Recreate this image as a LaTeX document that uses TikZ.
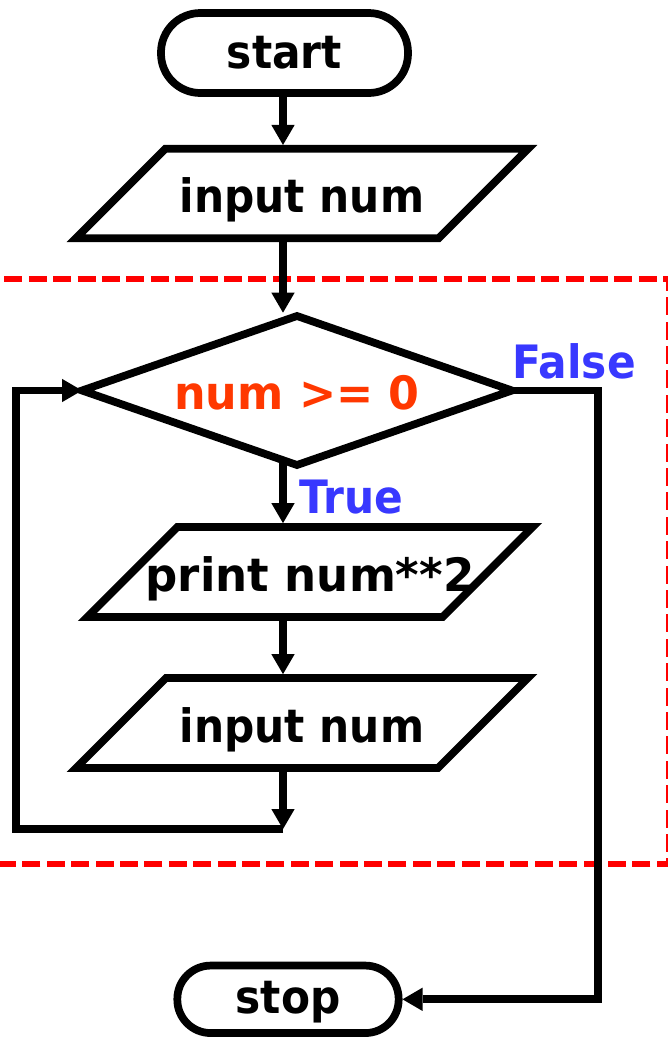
\documentclass[tikz,border=0pt]{standalone}
\usepackage{fontspec}
\newfontfamily\flowfont{DejaVu Sans}[FakeStretch=0.92]
\newfontfamily\flowfontcond{DejaVu Sans}[FakeStretch=0.965]
\newfontfamily\flowfontwide{DejaVu Sans}[FakeStretch=0.98]
\usetikzlibrary{shapes.geometric,arrows.meta,calc}
\definecolor{condcol}{RGB}{255,56,0}
\definecolor{lblcol}{RGB}{56,56,255}
\definecolor{boxred}{RGB}{255,0,0}
\begin{document}
\begin{tikzpicture}[x=0.75pt,y=-0.75pt,
  every node/.style={font=\flowfont\bfseries\fontsize{34.5pt}{40pt}\selectfont, inner sep=0pt},
  flowline/.style={line width=5.8pt, line join=miter},
  arr/.style={flowline, -{Triangle[width=17.5pt,length=15pt,line width=0pt]}},
  term/.style={draw, line width=5.8pt, rectangle, inner sep=0pt, text depth=0pt},
  io/.style={draw, line width=5.8pt, trapezium, trapezium left angle=45, trapezium right angle=135, trapezium stretches body, inner xsep=0pt, text height=29.2pt, text depth=0pt},
  decision/.style={draw, line width=5.8pt, diamond, aspect=2.9, outer sep=0pt, minimum width=322.5pt, minimum height=111.75pt, text height=28.5pt, text depth=0pt, text=condcol},
  branch/.style={text=lblcol, anchor=base},
  loopbox/.style={draw=boxred, line width=4.5pt, dash pattern=on 13.5pt off 4.8pt}
]
\useasboundingbox (0,0) rectangle (668,1040);
\clip (0,0) rectangle (668,1040);
\draw[loopbox] (-20,278.5) -- (669,278.5) -- (669,864) -- (-20,864);
\node[term, rounded corners=29.5pt, minimum width=185.25pt, minimum height=60pt, text height=22.5pt] (start) at (284.5,53) {start};
\node[io, inner ysep=18.9pt, minimum width=339pt, minimum height=67pt] (in1) at (302,193.5) {input num};
\node[decision, font=\flowfontcond\bfseries\fontsize{34.5pt}{40pt}\selectfont] (cond) at (297,390.5) {num >= 0};
\node[io, inner ysep=19.15pt, minimum width=334pt, minimum height=67.5pt, font=\flowfontwide\bfseries\fontsize{34.5pt}{40pt}\selectfont] (out) at (310,572) {\makebox[0pt]{print num**2}};
\node[io, inner ysep=19.15pt, minimum width=339pt, minimum height=67.5pt] (in2) at (302,723) {input num};
\node[term, rounded corners=25pt, minimum width=166pt, minimum height=50.6pt, text height=21.8pt] (stop) at (288,999.3) {stop};
\node[branch] (lfalse) at (574,378) {False};
\node[branch] (ltrue) at (351,513) {True};
\coordinate (spine) at (283,0);
\coordinate (loopend) at (283,829);
\coordinate (loopcorner) at (16,829);
\coordinate (falsecorner) at (598,390.5);
\draw[arr] (start.south -| spine) -- (in1.north -| spine);
\draw[arr, shorten >=2.5pt] (in1.south -| spine) -- (cond.north -| spine);
\draw[arr] ($(cond.south -| spine)+(0,-6)$) -- (out.north -| spine);
\draw[arr] (out.south -| spine) -- (in2.north -| spine);
\draw[arr] (in2.south -| spine) -- (loopend);
\draw[arr] (loopend) -- (loopcorner) |- (cond.west);
\draw[arr] (cond.east) -- (falsecorner) |- (stop.east);
\end{tikzpicture}
\end{document}
